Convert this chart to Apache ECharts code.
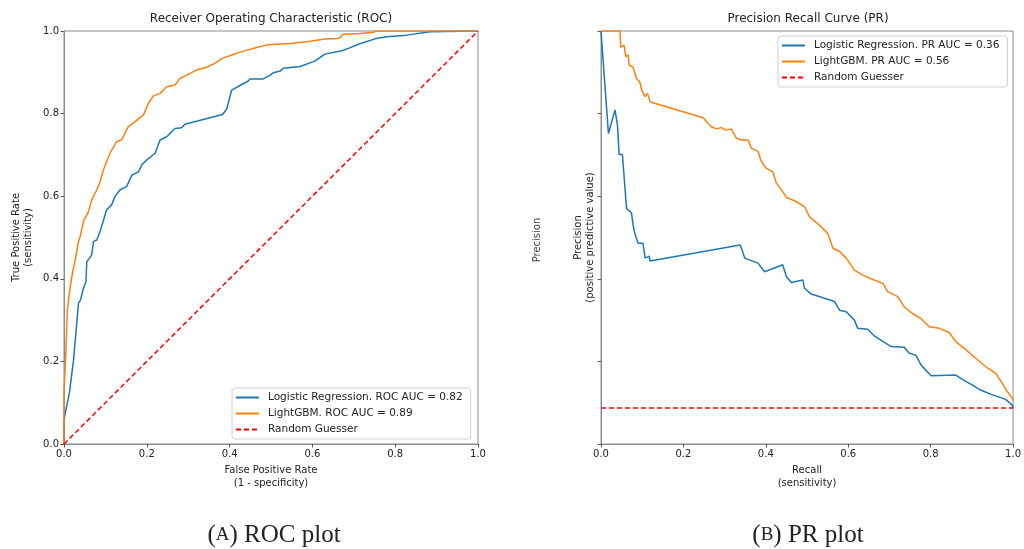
<!DOCTYPE html>
<html>
<head>
<meta charset="utf-8">
<script src="https://cdn.jsdelivr.net/npm/echarts@6/dist/echarts.min.js"></script>
<style>
  html, body { margin: 0; padding: 0; background: #fff; }
  #chart { width: 1024px; height: 549px; }
</style>
</head>
<body>
<div id="chart"></div>
<script>
const rocLrFpr = [0, 0, 0.006, 0.013, 0.023, 0.035, 0.040, 0.047, 0.053, 0.055, 0.067, 0.071, 0.079, 0.087, 0.103, 0.115, 0.123, 0.135, 0.151, 0.164, 0.180, 0.188, 0.200, 0.220, 0.232, 0.248, 0.268, 0.284, 0.292, 0.383, 0.393, 0.405, 0.425, 0.445, 0.449, 0.481, 0.498, 0.506, 0.522, 0.530, 0.570, 0.606, 0.630, 0.671, 0.687, 0.711, 0.751, 0.779, 0.828, 0.884, 1.0];
const rocLrTpr = [0, 0.058, 0.090, 0.123, 0.203, 0.341, 0.349, 0.377, 0.393, 0.441, 0.458, 0.490, 0.494, 0.514, 0.567, 0.579, 0.599, 0.615, 0.623, 0.651, 0.659, 0.676, 0.688, 0.704, 0.736, 0.744, 0.764, 0.766, 0.774, 0.798, 0.811, 0.857, 0.868, 0.879, 0.884, 0.884, 0.893, 0.899, 0.903, 0.910, 0.914, 0.927, 0.944, 0.952, 0.958, 0.968, 0.981, 0.986, 0.990, 0.998, 1.0];

const rocGbmFpr = [0, 0, 0.005, 0.008, 0.015, 0.021, 0.027, 0.035, 0.039, 0.048, 0.059, 0.067, 0.079, 0.087, 0.095, 0.103, 0.111, 0.127, 0.139, 0.155, 0.171, 0.192, 0.204, 0.216, 0.232, 0.248, 0.268, 0.280, 0.300, 0.321, 0.345, 0.361, 0.381, 0.405, 0.429, 0.465, 0.494, 0.546, 0.586, 0.635, 0.663, 0.675, 0.715, 0.747, 0.755, 1.0];
const rocGbmTpr = [0, 0.123, 0.236, 0.324, 0.381, 0.417, 0.446, 0.490, 0.502, 0.542, 0.562, 0.591, 0.615, 0.635, 0.663, 0.684, 0.704, 0.732, 0.736, 0.768, 0.780, 0.797, 0.825, 0.843, 0.849, 0.865, 0.869, 0.885, 0.895, 0.906, 0.912, 0.920, 0.933, 0.942, 0.950, 0.960, 0.967, 0.970, 0.974, 0.981, 0.982, 0.992, 0.994, 0.997, 1.0, 1.0];

const prLrRecall = [0, 0.018, 0.034, 0.040, 0.044, 0.052, 0.062, 0.070, 0.074, 0.078, 0.082, 0.090, 0.102, 0.107, 0.117, 0.119, 0.338, 0.349, 0.381, 0.397, 0.441, 0.450, 0.462, 0.490, 0.494, 0.510, 0.567, 0.579, 0.595, 0.615, 0.623, 0.647, 0.663, 0.704, 0.736, 0.748, 0.764, 0.777, 0.801, 0.861, 0.886, 0.901, 0.918, 0.950, 0.982, 0.998, 1.0];
const prLrPrecision = [1.0, 0.752, 0.809, 0.772, 0.701, 0.701, 0.570, 0.564, 0.559, 0.530, 0.510, 0.486, 0.486, 0.450, 0.455, 0.443, 0.482, 0.450, 0.438, 0.417, 0.434, 0.405, 0.391, 0.397, 0.377, 0.363, 0.345, 0.324, 0.320, 0.300, 0.280, 0.278, 0.262, 0.236, 0.234, 0.220, 0.215, 0.191, 0.165, 0.167, 0.151, 0.143, 0.132, 0.119, 0.108, 0.094, 0.087];

const prGbmRecall = [0, 0.046, 0.048, 0.056, 0.060, 0.066, 0.068, 0.078, 0.086, 0.094, 0.099, 0.107, 0.113, 0.119, 0.124, 0.248, 0.260, 0.268, 0.280, 0.292, 0.304, 0.316, 0.329, 0.341, 0.357, 0.365, 0.381, 0.389, 0.401, 0.417, 0.425, 0.441, 0.450, 0.470, 0.494, 0.506, 0.530, 0.550, 0.563, 0.579, 0.595, 0.615, 0.635, 0.663, 0.684, 0.696, 0.720, 0.736, 0.756, 0.776, 0.797, 0.821, 0.845, 0.861, 0.886, 0.910, 0.934, 0.958, 0.974, 0.986, 0.998, 1.0];
const prGbmPrecision = [1.0, 1.0, 0.960, 0.966, 0.938, 0.942, 0.918, 0.912, 0.885, 0.877, 0.857, 0.841, 0.849, 0.829, 0.827, 0.790, 0.776, 0.768, 0.763, 0.766, 0.760, 0.763, 0.740, 0.736, 0.736, 0.716, 0.709, 0.684, 0.668, 0.659, 0.633, 0.611, 0.597, 0.589, 0.575, 0.550, 0.530, 0.510, 0.474, 0.466, 0.450, 0.421, 0.409, 0.397, 0.389, 0.369, 0.357, 0.332, 0.316, 0.304, 0.284, 0.280, 0.270, 0.248, 0.228, 0.207, 0.187, 0.171, 0.147, 0.127, 0.111, 0.105];

const randomRocX = [0, 1];
const randomRocY = [0, 1];
const randomPrX = [0, 1];
const randomPrY = [0.087, 0.087];

const rocNames = ["Logistic Regression. ROC AUC = 0.82", "LightGBM. ROC AUC = 0.89", "Random Guesser"];
const prNames = ["Logistic Regression. PR AUC = 0.36", "LightGBM. PR AUC = 0.56", "Random Guesser"];

const BLUE = "#1f77b4";
const ORANGE = "#ff7f0e";
const RED = "#ff0000";
const FONT = "DejaVu Sans";

const zip = (xs, ys) => xs.map((x, i) => [x, ys[i]]);

const chart = echarts.init(document.getElementById("chart"), null, { renderer: "canvas" });

const axisBase = (name, gap, showLabel, nameLineHeight) => ({
  type: "value",
  min: 0,
  max: 1,
  interval: 0.2,
  name: name,
  nameLocation: "middle",
  nameGap: gap,
  nameTextStyle: { fontFamily: FONT, fontSize: 10, color: "#222", lineHeight: nameLineHeight },
  axisLine: { show: true, lineStyle: { color: "#8c8c8c", width: 1 } },
  axisTick: { show: true, length: 3.5, lineStyle: { color: "#555" } },
  axisLabel: {
    show: showLabel,
    fontFamily: FONT,
    fontSize: 10,
    color: "#222",
    margin: 5,
    formatter: (v) => v.toFixed(1),
  },
  splitLine: { show: false },
});

// legend: line only, no marker in the middle
const legendBase = (data, left, top) => ({
  data: data,
  orient: "vertical",
  left: left,
  top: top,
  padding: [4, 8, 4, 3],
  itemGap: 5,
  itemWidth: 23,
  itemHeight: 11,
  itemStyle: { opacity: 0 },
  backgroundColor: "#fff",
  borderColor: "#d0d0d0",
  borderWidth: 1,
  borderRadius: 3,
  selectedMode: false,
  textStyle: { fontFamily: FONT, fontSize: 10.5, color: "#222", lineHeight: 11, padding: [0, 0, 0, 4] },
});

const lineSeries = (name, data, color, idx, dashed) => ({
  name: name,
  type: "line",
  xAxisIndex: idx,
  yAxisIndex: idx,
  data: data,
  symbol: "none",
  animation: false,
  lineStyle: { color: color, width: 1.5, type: dashed ? [5, 3] : "solid" },
  itemStyle: { color: color },
  z: dashed ? 3 : 2,
});

const captionRich = {
  p: { fontFamily: "Liberation Serif", fontSize: 25, fill: "#222" },
  s: { fontFamily: "Liberation Serif", fontSize: 19, fill: "#222" },
};

const option = {
  backgroundColor: "#fff",
  animation: false,
  grid: [
    { left: 64, width: 414, top: 31, height: 413, show: true, borderColor: "#8c8c8c", borderWidth: 1 },
    { left: 601, width: 413, top: 31, height: 413, show: true, borderColor: "#8c8c8c", borderWidth: 1 },
  ],
  xAxis: [
    Object.assign(axisBase("False Positive Rate\n(1 - specificity)", 17, true, 13), { gridIndex: 0 }),
    Object.assign(axisBase("Recall\n(sensitivity)", 17, true, 13), { gridIndex: 1 }),
  ],
  yAxis: [
    Object.assign(axisBase("True Positive Rate\n(sensitivity)", 30, true, 11.5), { gridIndex: 0, nameRotate: 90 }),
    Object.assign(axisBase("Precision\n(positive predictive value)", 5, false, 11.5), { gridIndex: 1, nameRotate: 90 }),
  ],
  legend: [legendBase(rocNames, 232, 388), legendBase(prNames, 778, 36)],
  series: [
    lineSeries(rocNames[0], zip(rocLrFpr, rocLrTpr), BLUE, 0, false),
    lineSeries(rocNames[1], zip(rocGbmFpr, rocGbmTpr), ORANGE, 0, false),
    lineSeries(rocNames[2], zip(randomRocX, randomRocY), RED, 0, true),
    lineSeries(prNames[0], zip(prLrRecall, prLrPrecision), BLUE, 1, false),
    lineSeries(prNames[1], zip(prGbmRecall, prGbmPrecision), ORANGE, 1, false),
    lineSeries(prNames[2], zip(randomPrX, randomPrY), RED, 1, true),
  ],
  graphic: [
    { type: "text", x: 271, y: 19, style: { text: "Receiver Operating Characteristic (ROC)", fontFamily: FONT, fontSize: 12, fill: "#222", textAlign: "center", textVerticalAlign: "middle" } },
    { type: "text", x: 808, y: 19, style: { text: "Precision Recall Curve (PR)", fontFamily: FONT, fontSize: 12, fill: "#222", textAlign: "center", textVerticalAlign: "middle" } },
    { type: "text", x: 537, y: 240, rotation: Math.PI / 2, style: { text: "Precision", fontFamily: FONT, fontSize: 10, fill: "#444", textAlign: "center", textVerticalAlign: "middle" } },
    { type: "text", x: 274, y: 535, style: { text: "{p|(}{s|A}{p|) ROC plot}", rich: captionRich, textAlign: "center", textVerticalAlign: "middle" } },
    { type: "text", x: 808, y: 535, style: { text: "{p|(}{s|B}{p|) PR plot}", rich: captionRich, textAlign: "center", textVerticalAlign: "middle" } },
  ],
};

chart.setOption(option);
</script>
</body>
</html>
